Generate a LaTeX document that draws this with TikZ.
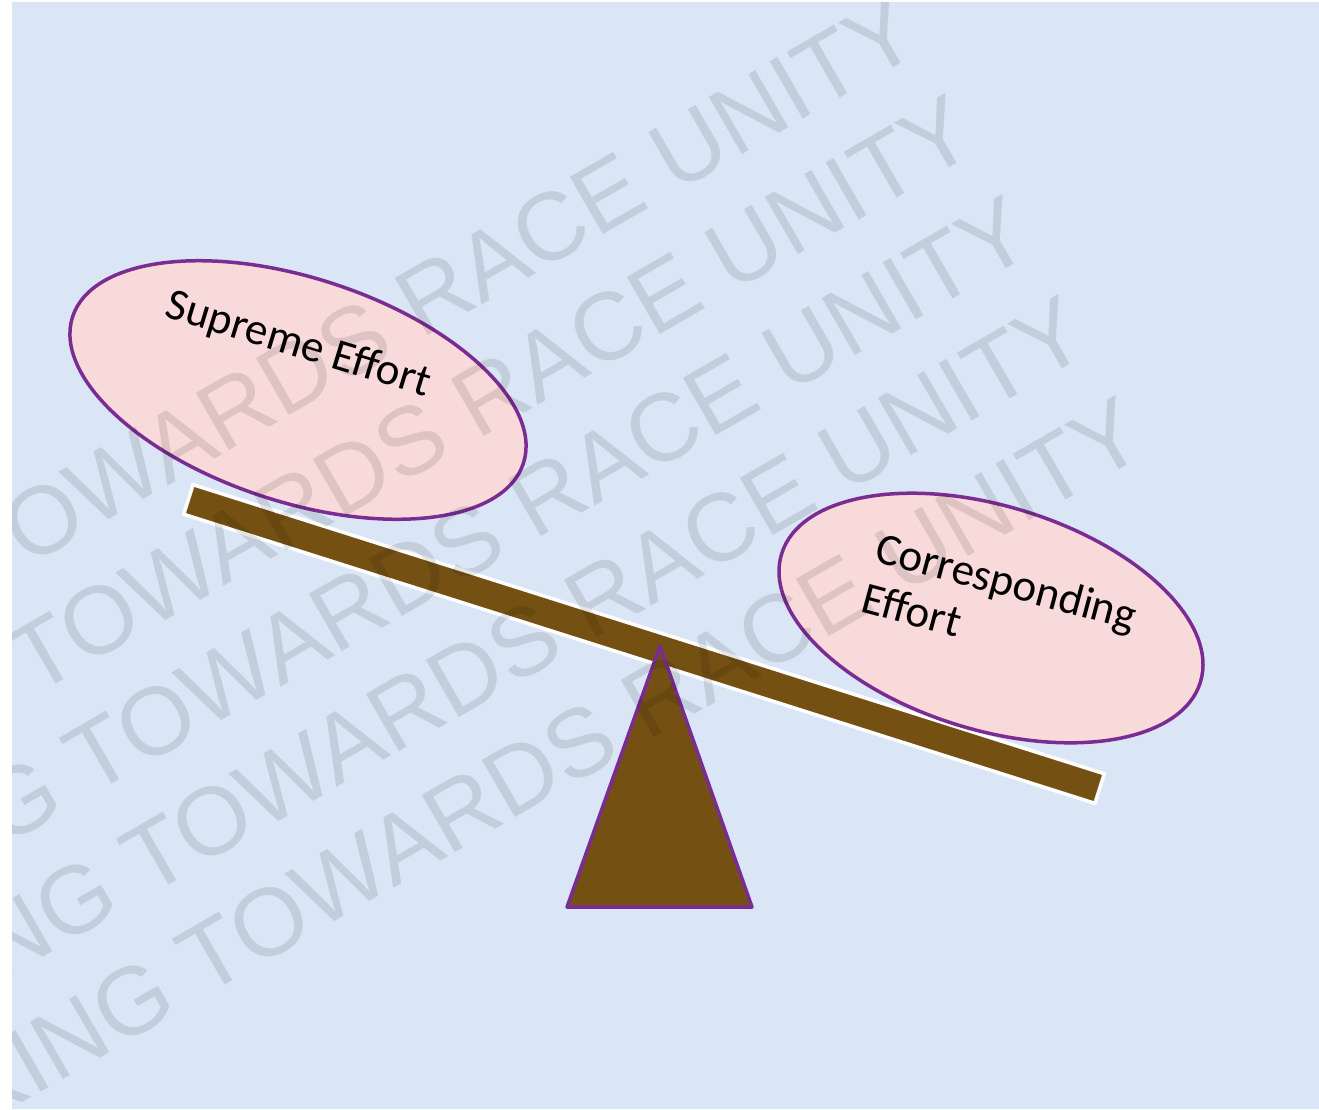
\documentclass[tikz,border=0pt]{standalone}
\usepackage{fontspec}
\setmainfont{Carlito}
\newfontfamily\wmfont{Liberation Sans}
\usetikzlibrary{shapes.geometric}
\definecolor{bgblue}{HTML}{DAE5F5}
\definecolor{seatpink}{HTML}{F8DADA}
\definecolor{rimpurple}{HTML}{7B2C92}
\definecolor{plank}{HTML}{745013}

\begin{document}
\begin{tikzpicture}[x=1pt,y=-1pt,
    pan/.style={ellipse, draw=rimpurple, line width=3.5pt, fill=seatpink, inner sep=0pt},
    lbl/.style={font=\fontsize{45}{52}\selectfont, align=left, inner sep=0pt},
    wm/.style={font=\wmfont\fontsize{96}{96}\selectfont, text=black, text opacity=0.1,
      anchor=base east, rotate=30, inner sep=0pt}]
  \useasboundingbox (0,0) rectangle (1319,1109);
  \fill[bgblue] (12,2) rectangle (1319,1109);

  % plank and stand
  \node[rectangle, fill=plank, draw=white, line width=3.5pt, inner sep=0pt,
        minimum width=956, minimum height=31, rotate=-17.6] (beam) at (644,644) {};
  \coordinate (top) at (660,646);
  \coordinate (bl) at (567,907);
  \coordinate (br) at (752,907);
  \draw[fill=plank, draw=rimpurple, line width=3.5pt, line join=round] (top) -- (bl) -- (br) -- cycle;

  % the two pans
  \node[pan, minimum width=474, minimum height=224, rotate=-18] (left) at (298,390) {};
  \node[pan, minimum width=438, minimum height=224, rotate=-17] (right) at (991,618) {};

  \node[lbl, rotate=-17] (sup) at (298,345) {Supreme Effort};
  \node[lbl, rotate=-15] (corr) at (1000,606) {Corresponding\\Effort};

  % watermark
  \begin{scope}
    \clip (12,2) rectangle (1319,1109);
    \foreach \k in {0,...,4}
      \node[wm] (wm\k) at ({925+56.5*\k},{49+100.5*\k}) {WORKING TOWARDS RACE UNITY};
  \end{scope}
\end{tikzpicture}
\end{document}
